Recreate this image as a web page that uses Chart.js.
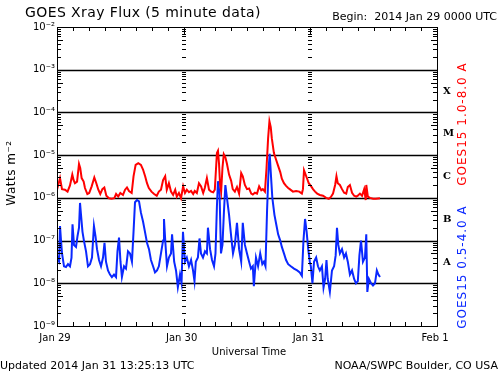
<!DOCTYPE html>
<html>
<head>
    <title>GOES Xray Flux</title>
    <style>
        html, body { margin: 0; padding: 0; background: #fff; }
        #wrap { width: 500px; height: 375px; }
    </style>
</head>
<body>
    <div id="wrap"><canvas id="xrayChart" width="500" height="375"></canvas></div>
    <script src="https://cdn.jsdelivr.net/npm/chart.js"></script>
    <script>
        // hours since 2014 Jan 29 00:00 UTC
        const redHours = [0, 0.57, 0.95, 1.5, 2.0, 2.46, 2.9, 3.15, 3.4, 3.8, 4.17, 4.4, 4.67, 5.05, 5.3, 5.75, 6.1, 6.57, 7.07, 7.45,
            7.83, 8.2, 8.6, 8.97, 9.35, 9.85, 10.35, 10.86, 11.2, 11.6, 12.0, 12.5, 12.9, 13.26, 13.64, 14.15, 14.5, 14.9, 15.4, 15.9,
            16.3, 16.7, 17.05, 17.4, 17.9, 18.4, 18.9, 19.3, 19.7, 20.1, 20.5, 20.8, 21.2, 21.6, 22.0, 22.4, 22.7, 23.1, 23.5, 23.9,
            24.25, 24.6, 25.0, 25.4, 25.8, 26.1, 26.5, 26.9, 27.3, 27.7, 28.0, 28.4, 28.8, 29.2, 29.6, 29.9, 30.3, 30.5, 30.7, 30.9,
            31.1, 31.35, 31.6, 31.9, 32.2, 32.6, 33.0, 33.3, 33.7, 34.1, 34.5, 34.9, 35.2, 35.6, 36.0, 36.4, 36.8, 37.1, 37.5, 37.9,
            38.3, 38.7, 39.0, 39.4, 39.7, 40.0, 40.25, 40.5, 40.7, 41.1, 41.5, 41.9, 42.3, 42.6, 43.0, 43.4, 43.8, 44.1, 44.7, 45.3,
            45.9, 46.4, 46.6, 46.8, 47.1, 47.4, 47.7, 48.1, 48.5, 48.9, 49.3, 49.8, 50.4, 51.0, 51.5, 51.9, 52.3, 52.7, 52.95, 53.2,
            53.6, 54.0, 54.4, 54.8, 55.1, 55.5, 55.9, 56.3, 56.7, 57.0, 57.4, 57.8, 58.2, 58.5, 58.6, 58.9, 59.3, 59.9, 60.4, 61.2];
        // GOES15 1.0-8.0 A, W m-2
        const redFlux = [1.55e-6, 2.9e-6, 1.6e-6, 1.55e-6, 1.4e-6, 1.95e-6, 3.5e-6, 2.6e-6, 2.2e-6, 2.4e-6, 6.2e-6, 5.0e-6, 2.9e-6, 2.4e-6, 1.7e-6, 1.23e-6, 1.3e-6, 1.86e-6, 3.0e-6, 2.2e-6,
            1.55e-6, 1.23e-6, 1.6e-6, 1.75e-6, 1.12e-6, 9.8e-7, 9.5e-7, 9.8e-7, 1.23e-6, 1.07e-6, 1.3e-6, 1.17e-6, 1.55e-6, 1.75e-6, 1.45e-6, 1.3e-6, 3.2e-6, 5.9e-6, 6.5e-6, 5.9e-6,
            4.6e-6, 3.2e-6, 2.2e-6, 1.7e-6, 1.4e-6, 1.23e-6, 1.12e-6, 1.4e-6, 1.55e-6, 2.6e-6, 3.2e-6, 1.55e-6, 2.2e-6, 1.4e-6, 1.17e-6, 1.55e-6, 1.07e-6, 1.3e-6, 9.8e-7, 1.86e-6,
            1.3e-6, 1.55e-6, 1.35e-6, 1.45e-6, 1.23e-6, 1.45e-6, 1.3e-6, 2.2e-6, 1.86e-6, 1.3e-6, 1.7e-6, 2.9e-6, 1.55e-6, 1.4e-6, 1.35e-6, 1.55e-6, 1.12e-5, 1.26e-5, 6.3e-6, 2.0e-6,
            1.4e-6, 5.0e-6, 1.05e-5, 8.9e-6, 6.3e-6, 3.5e-6, 2.5e-6, 1.6e-6, 1.4e-6, 1.8e-6, 1.26e-6, 3.8e-6, 3.2e-6, 2.0e-6, 1.6e-6, 1.66e-6, 1.26e-6, 1.2e-6, 1.32e-6, 1.26e-6,
            1.86e-6, 1.5e-6, 1.6e-6, 1.4e-6, 5.0e-6, 2.5e-5, 6.2e-5, 4.5e-5, 2.5e-5, 1.12e-5, 7.9e-6, 5.6e-6, 4.0e-6, 2.8e-6, 2.2e-6, 1.9e-6, 1.7e-6, 1.6e-6, 1.4e-6, 1.45e-6,
            1.4e-6, 1.26e-6, 1.6e-6, 4.4e-6, 3.5e-6, 2.8e-6, 2.2e-6, 1.9e-6, 1.6e-6, 1.4e-6, 1.26e-6, 1.17e-6, 1.12e-6, 1.0e-6, 9.5e-7, 1.05e-6, 1.26e-6, 2.0e-6, 3.2e-6, 2.2e-6,
            2.0e-6, 1.6e-6, 1.32e-6, 1.26e-6, 1.8e-6, 2.0e-6, 1.32e-6, 1.12e-6, 1.07e-6, 1.12e-6, 1.26e-6, 1.12e-6, 1.6e-6, 8.9e-7, 2.0e-6, 1.07e-6, 1.0e-6, 9.5e-7, 9.5e-7, 9.8e-7];

        const blueHours = [0, 0.2, 0.4, 0.57, 0.76, 0.95, 1.33, 1.7, 2.08, 2.46, 2.75, 2.94, 3.22, 3.6, 3.88, 4.17, 4.36, 4.55, 4.83, 5.1,
            5.5, 5.87, 6.25, 6.63, 7.0, 7.3, 7.58, 7.96, 8.34, 8.72, 9.0, 9.28, 9.66, 10.04, 10.4, 10.8, 11.18, 11.46, 11.75, 12.03,
            12.3, 12.7, 13.07, 13.45, 13.83, 14.2, 14.5, 14.78, 15.16, 15.54, 15.9, 16.3, 16.67, 17.05, 17.43, 17.8, 18.2, 18.57, 18.95, 19.3,
            19.7, 20.1, 20.27, 20.56, 20.84, 21.2, 21.6, 21.8, 22.2, 22.55, 22.9, 23.3, 23.6, 23.87, 24.25, 24.6, 25.0, 25.4, 25.77, 26.05,
            26.3, 26.7, 27.0, 27.28, 27.66, 28.04, 28.4, 28.6, 29.0, 29.37, 29.75, 30.03, 30.3, 30.5, 30.8, 31.07, 31.35, 31.64, 31.9, 32.2,
            32.6, 33.0, 33.35, 33.7, 34.1, 34.5, 34.9, 35.2, 35.6, 36.0, 36.4, 36.75, 37.1, 37.3, 37.7, 38.1, 38.5, 38.9, 39.2, 39.5,
            39.8, 40.1, 40.3, 40.5, 40.8, 41.2, 41.6, 41.9, 42.3, 42.6, 43.0, 43.4, 43.8, 44.3, 44.9, 45.5, 46.0, 46.4, 46.7, 47.0,
            47.3, 47.6, 47.9, 48.1, 48.4, 48.7, 49.1, 49.45, 49.8, 50.2, 50.5, 50.8, 51.06, 51.3, 51.7, 52.1, 52.5, 52.8, 53.05, 53.3,
            53.6, 54.0, 54.4, 54.75, 55.1, 55.5, 55.9, 56.3, 56.65, 57.0, 57.3, 57.6, 57.97, 58.35, 58.6, 58.8, 59.1, 59.5, 59.87, 60.25,
            60.6, 60.9, 61.2];
        // GOES15 0.5-4.0 A, W m-2
        const blueFlux = [4.5e-8, 3.5e-8, 3.2e-8, 2.2e-7, 1.0e-7, 5.0e-8, 2.5e-8, 2.4e-8, 2.8e-8, 2.5e-8, 4.0e-8, 2.4e-7, 7.9e-8, 7.1e-8, 1.26e-7, 2.0e-7, 7.6e-7, 4.0e-7, 1.6e-7, 1.0e-7,
            5.6e-8, 2.5e-8, 2.8e-8, 4.0e-8, 2.2e-7, 1.26e-7, 6.3e-8, 3.5e-8, 2.5e-8, 4.0e-8, 8.9e-8, 3.2e-8, 2.0e-8, 1.6e-8, 1.4e-8, 1.6e-8, 1.4e-8, 5.6e-8, 1.17e-7, 3.2e-8,
            1.4e-8, 2.5e-8, 2.2e-8, 5.6e-8, 5.0e-8, 3.2e-8, 1.6e-7, 7.9e-7, 8.9e-7, 8.3e-7, 4.5e-7, 2.8e-7, 1.6e-7, 8.9e-8, 6.3e-8, 3.5e-8, 2.5e-8, 1.8e-8, 2.0e-8, 2.5e-8,
            5.0e-8, 1.0e-7, 3.2e-7, 7.9e-8, 2.5e-8, 4.0e-8, 5.0e-8, 1.4e-7, 3.2e-8, 2.0e-8, 8.1e-9, 1.6e-8, 1.0e-8, 1.6e-7, 3.2e-8, 4.0e-8, 2.5e-8, 3.5e-8, 2.0e-8, 1.12e-8,
            3.2e-8, 4.0e-8, 1.12e-7, 5.0e-8, 4.0e-8, 5.6e-8, 5.0e-8, 2.0e-7, 6.3e-8, 3.5e-8, 2.5e-8, 5.0e-8, 6.3e-7, 2.45e-6, 1.26e-6, 5.0e-8, 7.9e-8, 5.0e-7, 2.0e-6, 1.0e-6,
            4.0e-7, 1.26e-7, 5.0e-8, 7.9e-8, 2.6e-7, 6.3e-8, 3.2e-8, 2.6e-7, 7.9e-8, 5.0e-8, 3.2e-8, 2.2e-8, 2.5e-8, 8.5e-9, 4.0e-8, 2.5e-8, 5.0e-8, 2.8e-8, 3.2e-8, 2.5e-8,
            5.0e-7, 5.0e-6, 1.07e-5, 4.0e-6, 1.0e-6, 4.0e-7, 2.2e-7, 1.4e-7, 1.0e-7, 7.1e-8, 5.0e-8, 3.5e-8, 2.8e-8, 2.5e-8, 2.2e-8, 2.0e-8, 1.8e-8, 1.5e-8, 1.0e-7, 3.2e-7,
            1.6e-7, 6.3e-8, 3.2e-8, 2.5e-8, 1.0e-8, 3.2e-8, 4.0e-8, 2.5e-8, 2.0e-8, 2.5e-8, 7.9e-9, 1.26e-8, 3.5e-8, 1.26e-8, 6.3e-9, 2.0e-8, 2.5e-8, 4.5e-8, 2.0e-7, 7.9e-8,
            5.0e-8, 6.3e-8, 4.0e-8, 5.0e-8, 3.2e-8, 1.6e-8, 2.0e-8, 1.26e-8, 1.0e-8, 1.12e-8, 4.5e-8, 1.0e-7, 3.2e-8, 4.0e-8, 1.4e-7, 6.3e-9, 1.26e-8, 1.0e-8, 8.9e-9, 1.0e-8,
            2.0e-8, 1.6e-8, 1.4e-8];

        const dayHours = [0, 24, 48, 72];
        const dayLabels = ['Jan 29', 'Jan 30', 'Jan 31', 'Feb 1'];
        const decades = [1e-2, 1e-3, 1e-4, 1e-5, 1e-6, 1e-7, 1e-8, 1e-9];
        const decadeLabels = ['10\u207B\u00B2', '10\u207B\u00B3', '10\u207B\u2074', '10\u207B\u2075', '10\u207B\u2076', '10\u207B\u2077', '10\u207B\u2078', '10\u207B\u2079'];
        const classLetters = ['X', 'M', 'C', 'B', 'A'];
        const classLevels = [3.16e-4, 3.16e-5, 3.16e-6, 3.16e-7, 3.16e-8];

        const FONT = '"DejaVu Sans", sans-serif';
        const RED = '#ff0000';
        const BLUE = '#0a28ff';

        function seg(ctx, x1, y1, x2, y2) {
            ctx.beginPath();
            ctx.moveTo(x1, y1);
            ctx.lineTo(x2, y2);
            ctx.stroke();
        }

        function vText(ctx, text, x, y, font, color, spacing) {
            ctx.save();
            ctx.translate(x, y);
            ctx.rotate(-Math.PI / 2);
            ctx.font = font;
            ctx.fillStyle = color;
            ctx.letterSpacing = spacing;
            ctx.textAlign = 'center';
            ctx.textBaseline = 'middle';
            ctx.fillText(text, 0, 0);
            ctx.restore();
        }

        const decorPlugin = {
            id: 'decor',
            beforeDatasetsDraw(chart) {
                const { ctx, chartArea: a, scales: { y } } = chart;
                ctx.save();
                ctx.strokeStyle = '#000';
                ctx.lineWidth = 1.6;
                decades.slice(1, -1).forEach(v => {
                    const py = Math.round(y.getPixelForValue(v)) + 0.5;
                    seg(ctx, a.left, py, a.right, py);
                });
                ctx.restore();
            },
            afterDraw(chart) {
                const { ctx, chartArea: a, scales: { x, y } } = chart;
                ctx.save();
                ctx.strokeStyle = '#000';
                ctx.lineWidth = 1;
                ctx.strokeRect(a.left + 0.5, a.top + 0.5, a.right - a.left, a.bottom - a.top);

                // log minor ticks on left, right and at day boundaries
                for (let i = 1; i < decades.length; i++) {
                    for (let m = 2; m <= 9; m++) {
                        const py = Math.round(y.getPixelForValue(decades[i] * m)) + 0.5;
                        const len = m === 5 ? 6 : 4;
                        seg(ctx, a.left, py, a.left + len, py);
                        seg(ctx, a.right - len, py, a.right, py);
                        [24, 48].forEach(h => {
                            const px = Math.round(x.getPixelForValue(h));
                            seg(ctx, px - 2, py, px + 2, py);
                        });
                    }
                }
                // time ticks every 3 hours
                for (let h = 3; h < 72; h += 3) {
                    const px = Math.round(x.getPixelForValue(h)) + 0.5;
                    const len = h % 24 === 0 ? 7 : 4;
                    seg(ctx, px, a.top, px, a.top + len);
                    seg(ctx, px, a.bottom, px, a.bottom - len);
                }

                ctx.fillStyle = '#000';
                ctx.textBaseline = 'middle';

                // y tick labels
                ctx.font = '10px ' + FONT;
                ctx.textAlign = 'right';
                decades.forEach((v, i) => ctx.fillText(decadeLabels[i], a.left - 2, y.getPixelForValue(v)));

                // x tick labels
                ctx.textAlign = 'center';
                dayHours.forEach((h, i) => ctx.fillText(dayLabels[i], x.getPixelForValue(h) - 2, a.bottom + 12));
                ctx.fillText('Universal Time', (a.left + a.right) / 2 + 2, a.bottom + 26);

                // class letters
                ctx.font = 'bold 10px "DejaVu Serif", serif';
                ctx.textAlign = 'left';
                classLetters.forEach((c, i) => ctx.fillText(c, a.right + 6, y.getPixelForValue(classLevels[i])));

                // title and footer
                ctx.font = '14px ' + FONT;
                ctx.letterSpacing = '0.4px';
                ctx.fillText('GOES Xray Flux (5 minute data)', 25, 13);
                ctx.letterSpacing = '0px';
                ctx.font = '11px ' + FONT;
                ctx.textAlign = 'right';
                ctx.fillText('Begin:  2014 Jan 29 0000 UTC', 497, 17);
                ctx.textAlign = 'left';
                ctx.fillText('Updated 2014 Jan 31 13:25:13 UTC', 0, 366);
                ctx.textAlign = 'right';
                ctx.fillText('NOAA/SWPC Boulder, CO USA', 498, 366);

                // rotated labels
                vText(ctx, 'Watts m\u207B\u00B2', 12, 173, '12px ' + FONT, '#000', '0.5px');
                vText(ctx, 'GOES15 1.0-8.0 A', 463, 124, '12px ' + FONT, RED, '1px');
                vText(ctx, 'GOES15 0.5-4.0 A', 463, 267, '12px ' + FONT, BLUE, '1px');

                ctx.restore();
            }
        };

        const ctx = document.getElementById('xrayChart').getContext('2d');
        new Chart(ctx, {
            type: 'line',
            data: {
                datasets: [{
                    label: 'GOES15 1.0-8.0 A',
                    data: redHours.map((h, i) => ({ x: h, y: redFlux[i] })),
                    borderColor: RED,
                    borderWidth: 2,
                    pointRadius: 0,
                    tension: 0
                }, {
                    label: 'GOES15 0.5-4.0 A',
                    data: blueHours.map((h, i) => ({ x: h, y: blueFlux[i] })),
                    borderColor: BLUE,
                    borderWidth: 2,
                    pointRadius: 0,
                    tension: 0
                }]
            },
            options: {
                responsive: false,
                animation: false,
                layout: { padding: { left: 57, right: 63, top: 27, bottom: 49 } },
                plugins: { legend: { display: false }, tooltip: { enabled: false } },
                scales: {
                    x: { type: 'linear', min: 0, max: 72, display: false },
                    y: { type: 'logarithmic', min: 1e-9, max: 1e-2, display: false }
                }
            },
            plugins: [decorPlugin]
        });
    </script>
</body>
</html>
